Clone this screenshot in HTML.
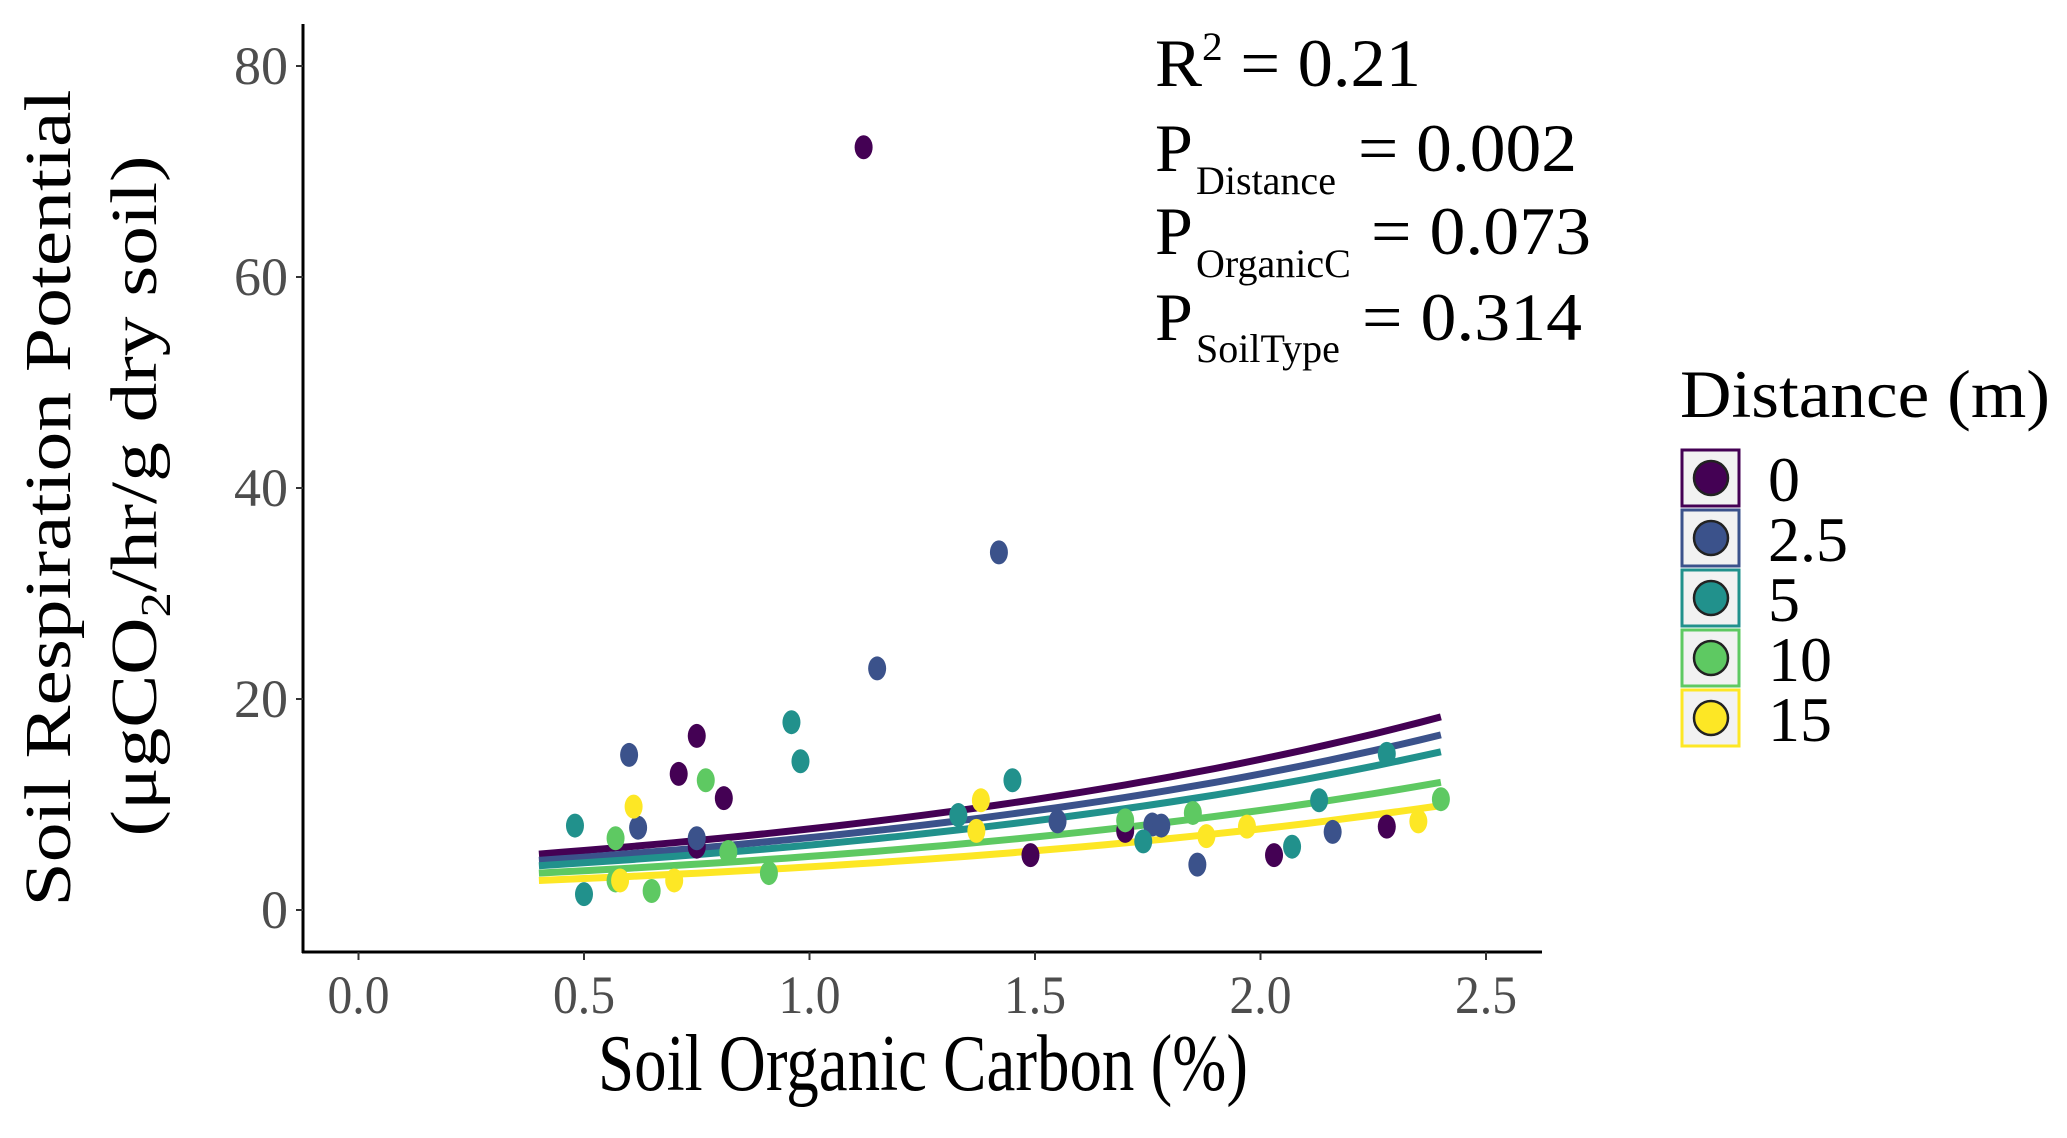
<!DOCTYPE html>
<html><head><meta charset="utf-8"><style>
html,body{margin:0;padding:0;background:#fff;}
svg{display:block;font-family:"Liberation Serif",serif;}
</style></head><body>
<svg id="chart" width="2067" height="1138" viewBox="0 0 2067 1138">
<g id="axes"></g>
<g id="fits"></g>
<g id="pts"></g>
<g font-size="66" fill="#000">
<text transform="translate(70,498) rotate(-90)" text-anchor="middle" textLength="817" lengthAdjust="spacingAndGlyphs">Soil Respiration Potential</text>
<text transform="translate(156,496) rotate(-90)" text-anchor="middle" textLength="681" lengthAdjust="spacingAndGlyphs">(μgCO<tspan font-size="42" dy="14">2</tspan><tspan dy="-14">/hr/g dry soil)</tspan></text>
</g>
<text x="923" y="1090" text-anchor="middle" font-size="80" textLength="650" lengthAdjust="spacingAndGlyphs">Soil Organic Carbon (%)</text>
<g font-size="68" fill="#000">
<text x="1155" y="86" textLength="266" lengthAdjust="spacingAndGlyphs">R<tspan font-size="40" dy="-26">2</tspan><tspan dy="26"> = 0.21</tspan></text>
<text x="1155" y="171">P</text><text x="1196" y="194" font-size="40">Distance</text><text x="1358" y="171" textLength="219" lengthAdjust="spacingAndGlyphs">= 0.002</text>
<text x="1155" y="254">P</text><text x="1196" y="277" font-size="40">OrganicC</text><text x="1371" y="254" textLength="220" lengthAdjust="spacingAndGlyphs">= 0.073</text>
<text x="1155" y="340">P</text><text x="1196" y="362" font-size="40">SoilType</text><text x="1362" y="340" textLength="220" lengthAdjust="spacingAndGlyphs">= 0.314</text>
</g>
<g id="legend">
<text x="1680" y="417" font-size="68" textLength="370" lengthAdjust="spacingAndGlyphs">Distance (m)</text>
</g>
</svg>
<script>
const groups = ["0","2.5","5","10","15"];
const colors = ["#440154","#3b528b","#21918c","#5ec962","#fde725"];
const xTicks = [0.0,0.5,1.0,1.5,2.0,2.5];
const xTickLabels = ["0.0","0.5","1.0","1.5","2.0","2.5"];
const yTicks = [0,20,40,60,80];
const yTickLabels = ["0","20","40","60","80"];
// fitted curve endpoints (x from 0.4 to 2.4)
const fitX = [0.4, 2.4];
const fitStart = [5.3, 4.7, 4.2, 3.5, 2.8];
const fitEnd = [18.3, 16.6, 15.0, 12.1, 9.9];
// points per group
const x0 = [1.12,0.75,0.71,0.81,1.49,2.03,2.28,1.70,0.75];
const y0 = [72.3,16.5,12.9,10.6,5.2,5.2,7.9,7.5,6.0];
const x1 = [1.42,1.15,0.60,0.62,0.75,1.55,1.76,1.86,2.16,1.78];
const y1 = [33.9,22.9,14.7,7.8,6.8,8.4,8.1,4.3,7.4,8.0];
const x2 = [0.96,0.98,1.45,0.48,0.50,1.33,1.74,2.07,2.13,2.28];
const y2 = [17.8,14.1,12.3,8.0,1.5,9.0,6.5,6.0,10.4,14.8];
const x3 = [0.77,0.57,0.57,0.65,0.91,1.70,1.85,2.40,0.82];
const y3 = [12.3,6.8,2.8,1.8,3.5,8.5,9.2,10.5,5.5];
const x4 = [0.61,0.58,0.70,1.38,1.37,1.88,1.97,2.35];
const y4 = [9.8,2.8,2.8,10.4,7.5,7.0,7.9,8.4];
const xs = [x0,x1,x2,x3,x4], ys=[y0,y1,y2,y3,y4];

const NS="http://www.w3.org/2000/svg";
const X = v => 358.5 + v*451;
const Y = v => 910 - v*10.55;
function mk(tag, attrs, parent){const e=document.createElementNS(NS,tag);for(const k in attrs)e.setAttribute(k,attrs[k]);parent.appendChild(e);return e;}
const axes=document.getElementById('axes');
let a=mk('line',{x1:303,y1:24,x2:303,y2:953,stroke:'#000','stroke-width':3},axes);


a=mk('line',{x1:302,y1:952,x2:1542,y2:952,stroke:'#000','stroke-width':3},axes);


yTicks.forEach((t,i)=>{
  let l=mk('line',{x1:296,x2:303,y1:Y(t),y2:Y(t),stroke:'#333','stroke-width':2},axes);
  
  
  let tx=mk('text',{x:288,y:Y(t)+18,'text-anchor':'end','font-size':54,fill:'#4d4d4d'},axes);
  tx.textContent=yTickLabels[i];
  
  
});
xTicks.forEach((t,i)=>{
  let l=mk('line',{x1:X(t),x2:X(t),y1:952,y2:960,stroke:'#333','stroke-width':2},axes);
  
  
  let tx=mk('text',{x:X(t),y:1013,'text-anchor':'middle','font-size':54,fill:'#4d4d4d',textLength:62,lengthAdjust:'spacingAndGlyphs'},axes);
  tx.textContent=xTickLabels[i];
  
  
});
// points
const pts=document.getElementById('pts');
groups.forEach((g,gi)=>{
  xs[gi].forEach((xv,j)=>{
    const e=mk('ellipse',{cx:X(xv),cy:Y(ys[gi][j]),rx:9,ry:12,fill:colors[gi]},pts);
    
    
  });
});
// fits
const fits=document.getElementById('fits');
groups.forEach((g,gi)=>{
  const b=Math.log(fitEnd[gi]/fitStart[gi])/(fitX[1]-fitX[0]);
  let d='';
  for(let k=0;k<=40;k++){const xv=fitX[0]+(fitX[1]-fitX[0])*k/40;const yv=fitStart[gi]*Math.exp(b*(xv-fitX[0]));d+=(k?'L':'M')+X(xv).toFixed(1)+','+Y(yv).toFixed(1);}
  const p=mk('path',{d:d,fill:'none',stroke:colors[gi],'stroke-width':7},fits);
  
  
});
// legend
const lg=document.getElementById('legend');
groups.forEach((g,gi)=>{
  const cy=478+gi*60;
  const r=mk('rect',{x:1682,y:cy-28,width:57,height:56,fill:'#f2f2f2',stroke:colors[gi],'stroke-width':3},lg);
  
  
  const c=mk('circle',{cx:1711,cy:cy,r:17,fill:colors[gi],stroke:'#222','stroke-width':2.5},lg);
  
  
  const t=mk('text',{x:1768,y:cy+23,'font-size':64,fill:'#000'},lg);
  t.textContent=g;
  
  
});
</script>
</body></html>
